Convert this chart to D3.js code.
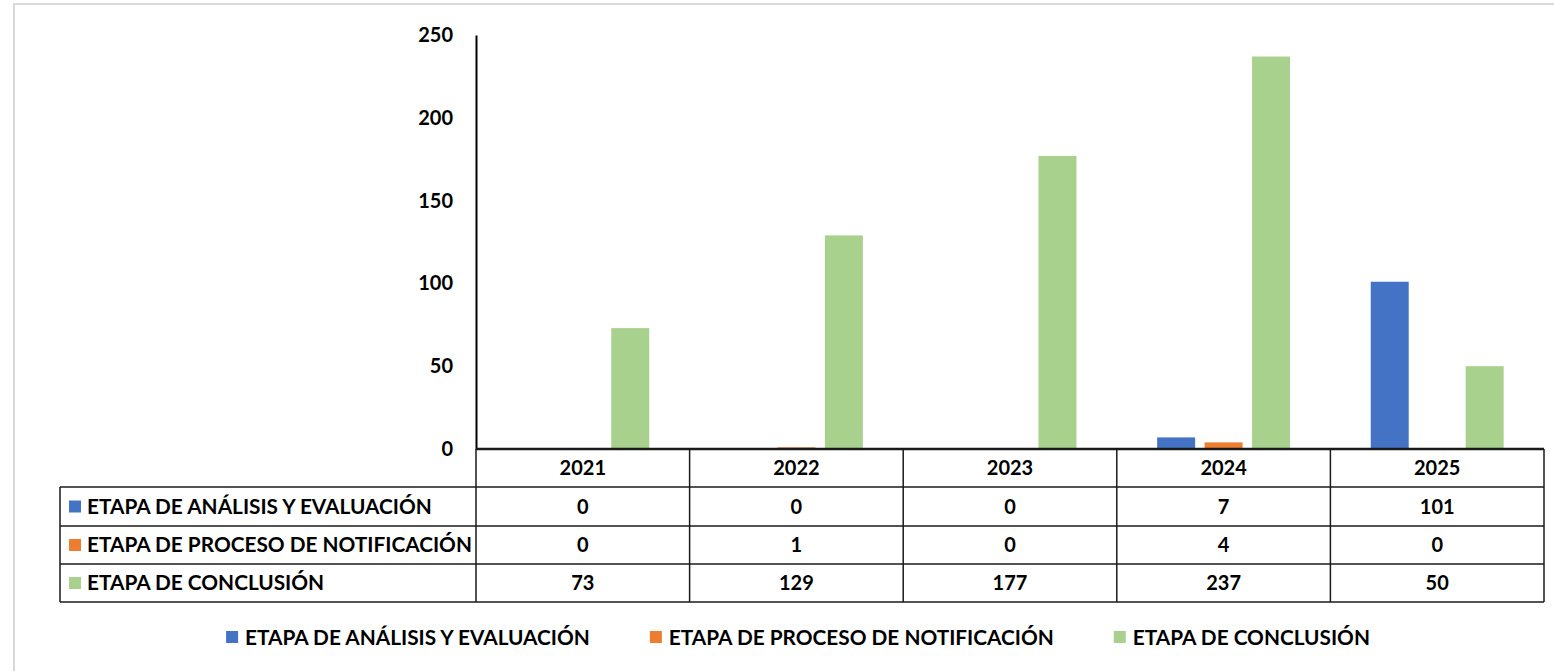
<!DOCTYPE html>
<html>
<head>
<meta charset="utf-8">
<script src="https://cdn.jsdelivr.net/npm/d3@7"></script>
<style>
    html, body { margin: 0; padding: 0; background: #fff; }
    svg { display: block; }
    text { font-family: Lato, "DejaVu Sans", sans-serif; font-weight: bold; fill: #000; }
</style>
</head>
<body>
<div id="chart"></div>
<script>
const years = ["2021", "2022", "2023", "2024", "2025"];
const seriesNames = [
    "ETAPA DE ANÁLISIS Y EVALUACIÓN",
    "ETAPA DE PROCESO DE NOTIFICACIÓN",
    "ETAPA DE CONCLUSIÓN",
];
const analisis = [0, 0, 0, 7, 101];
const notificacion = [0, 1, 0, 4, 0];
const conclusion = [73, 129, 177, 237, 50];
const yTicks = [0, 50, 100, 150, 200, 250];
const seriesColors = ["#4472C4", "#ED7D31", "#A9D18E"];

const seriesValues = [analisis, notificacion, conclusion];

const width = 1554;
const height = 671;
const plot = { left: 476, right: 1544, top: 35, bottom: 449 };
const table = { left: 60, rowH: [38, 39, 38, 38] };
const labelFont = 20.8;

const svg = d3.select("#chart").append("svg")
    .attr("width", width)
    .attr("height", height);

// outer frame of the pasted chart
svg.append("path")
    .attr("d", `M14,${height} L14,4 L${width},4`)
    .attr("fill", "none")
    .attr("stroke", "#d9d9d9")
    .attr("stroke-width", 2);

const x0 = d3.scaleBand().domain(years).range([plot.left, plot.right]).padding(0);
const x1 = d3.scaleBand().domain(seriesNames).range([0, x0.bandwidth()])
    .paddingInner(0.2).paddingOuter(0.85);
const y = d3.scaleLinear().domain([0, 250]).range([plot.bottom, plot.top]);

// bars
const groups = svg.append("g").selectAll("g")
    .data(years)
    .join("g")
    .attr("transform", (d) => `translate(${x0(d)},0)`);

groups.selectAll("rect")
    .data((d, i) => seriesNames.map((s, k) => ({ s, k, v: seriesValues[k][i] })))
    .join("rect")
    .attr("x", (d) => x1(d.s))
    .attr("width", x1.bandwidth())
    .attr("y", (d) => y(d.v))
    .attr("height", (d) => y(0) - y(d.v))
    .attr("fill", (d) => seriesColors[d.k]);

// y axis
const yAxis = svg.append("g")
    .attr("transform", `translate(${plot.left},0)`)
    .call(d3.axisLeft(y).tickValues(yTicks).tickSize(0).tickPadding(23));
yAxis.select(".domain").attr("stroke", "#000").attr("stroke-width", 2);
yAxis.selectAll("text").style("font-size", "20px").style("font-family", "Lato").style("font-weight", "bold");

// data table
const rowTops = [plot.bottom];
table.rowH.forEach((h) => rowTops.push(rowTops[rowTops.length - 1] + h));
const tbl = svg.append("g");
const lineColor = "#1a1a1a";

// horizontal rules
rowTops.forEach((ty, i) => {
    tbl.append("line")
        .attr("x1", i === 0 ? plot.left : table.left)
        .attr("x2", plot.right)
        .attr("y1", ty).attr("y2", ty)
        .attr("stroke", lineColor)
        .attr("stroke-width", i === 0 ? 2.5 : 1.5);
});
// vertical rules
const colEdges = years.map((yr) => x0(yr)).concat([plot.right]);
colEdges.forEach((cx) => {
    tbl.append("line")
        .attr("x1", cx).attr("x2", cx)
        .attr("y1", plot.bottom).attr("y2", rowTops[4])
        .attr("stroke", lineColor).attr("stroke-width", 1.5);
});
tbl.append("line")
    .attr("x1", table.left).attr("x2", table.left)
    .attr("y1", rowTops[1]).attr("y2", rowTops[4])
    .attr("stroke", lineColor).attr("stroke-width", 1.5);

// header years
tbl.selectAll(".yr")
    .data(years)
    .join("text")
    .attr("x", (d) => x0(d) + x0.bandwidth() / 2)
    .attr("y", (rowTops[0] + rowTops[1]) / 2)
    .attr("dy", "0.36em")
    .attr("text-anchor", "middle")
    .style("font-size", "20px")
    .text((d) => d);

seriesNames.forEach((name, k) => {
    const top = rowTops[k + 1];
    const mid = (top + rowTops[k + 2]) / 2;
    tbl.append("rect")
        .attr("x", 69).attr("y", mid - 6)
        .attr("width", 12).attr("height", 12)
        .attr("fill", seriesColors[k]);
    tbl.append("text")
        .attr("x", 87).attr("y", mid).attr("dy", "0.36em")
        .style("font-size", labelFont + "px")
        .text(name);
    tbl.selectAll(".v" + k)
        .data(seriesValues[k])
        .join("text")
        .attr("x", (d, i) => x0(years[i]) + x0.bandwidth() / 2)
        .attr("y", mid).attr("dy", "0.36em")
        .attr("text-anchor", "middle")
        .style("font-size", "20px")
        .text((d) => d);
});

// legend
const legend = svg.append("g");
const items = seriesNames.map((name, k) => {
    const g = legend.append("g");
    g.append("rect").attr("x", 0).attr("y", -6).attr("width", 12).attr("height", 12)
        .attr("fill", seriesColors[k]);
    const t = g.append("text").attr("x", 19).attr("dy", "0.36em")
        .style("font-size", labelFont + "px").text(name);
    return { g, w: 19 + t.node().getComputedTextLength() };
});
const gap = 60;
const total = d3.sum(items, (d) => d.w) + gap * (items.length - 1);
let lx = 798 - total / 2;
items.forEach((it) => {
    it.g.attr("transform", `translate(${lx},637)`);
    lx += it.w + gap;
});
</script>
</body>
</html>
